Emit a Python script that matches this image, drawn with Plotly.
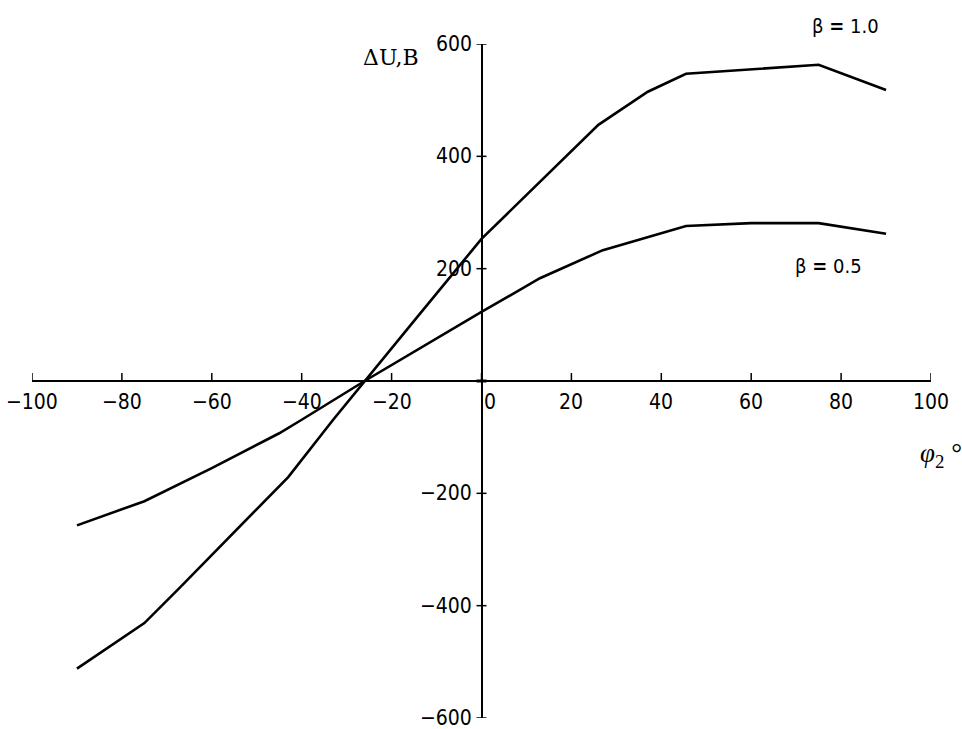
import plotly.graph_objects as go

# Data
phi_b10 = [-90, -75, -67, -52, -43, -33, -26, -15, 0, 7, 26, 37, 45.5, 75, 90]
du_b10 = [-512, -431, -367, -244, -171, -69, 0, 107, 253, 308, 456, 515, 547, 563, 518]

phi_b05 = [-90, -75, -60, -45, -40, -26, 0, 13, 27, 45.5, 60, 75, 90]
du_b05 = [-257, -214, -155, -93, -69, 0, 123, 183, 233, 276, 281, 281, 262]

x_ticks = [-100, -80, -60, -40, -20, 0, 20, 40, 60, 80, 100]
y_ticks = [-600, -400, -200, 0, 200, 400, 600]

TICK_FONT = dict(family="DejaVu Sans Condensed, DejaVu Sans", size=21, color="black")
LABEL_FONT = dict(family="DejaVu Sans Condensed, DejaVu Sans", size=20, color="black")

fig = go.Figure()
fig.add_trace(go.Scatter(x=phi_b10, y=du_b10, mode="lines",
                         line=dict(color="black", width=2.6), showlegend=False))
fig.add_trace(go.Scatter(x=phi_b05, y=du_b05, mode="lines",
                         line=dict(color="black", width=2.6), showlegend=False))

shapes = []
annotations = []
# x ticks (upward from axis)
for t in x_ticks:
    shapes.append(dict(type="line", xref="x", yref="y", ysizemode="pixel", yanchor=0,
                       x0=t, x1=t, y0=0, y1=8, line=dict(color="black", width=1.5)))
    if t == 0:
        annotations.append(dict(x=t, y=0, xref="x", yref="y", text=str(t), showarrow=False,
                                xanchor="left", yanchor="top", xshift=0, yshift=-7,
                                font=TICK_FONT))
    else:
        annotations.append(dict(x=t, y=0, xref="x", yref="y", text=str(t).replace("-", "\u2212"),
                                showarrow=False, xanchor="center", yanchor="top", yshift=-7,
                                font=TICK_FONT))
# y ticks (crossing the axis)
for t in y_ticks:
    shapes.append(dict(type="line", xref="x", yref="y", xsizemode="pixel", xanchor=0,
                       x0=-5, x1=5, y0=t, y1=t,
                       line=dict(color="black", width=3 if t == 0 else 1.5)))
    if t != 0:
        annotations.append(dict(x=0, y=t, xref="x", yref="y", text=str(t).replace("-", "\u2212"),
                                showarrow=False, xanchor="right", yanchor="middle", xshift=-8,
                                font=TICK_FONT))

# Axis titles and curve labels (positions in pixels, converted below)
annotations += [
    dict(x=391, y=57, xref="paper", yref="paper", text="\u0394U,B", showarrow=False,
         font=dict(family="DejaVu Serif, Liberation Serif", size=22, color="black")),
    dict(x=941, y=455, xref="paper", yref="paper",
         text="<i>\u03c6</i><sub>2</sub> \u00b0", showarrow=False,
         font=dict(family="Liberation Serif, Times New Roman", size=27, color="black")),
    dict(x=845, y=26, xref="paper", yref="paper", text="\u03b2 <b>=</b> 1.0", showarrow=False,
         font=LABEL_FONT),
    dict(x=828, y=266, xref="paper", yref="paper", text="\u03b2 <b>=</b> 0.5", showarrow=False,
         font=LABEL_FONT),
]

W, H = 962, 729
L, R, T, B = 32, 31, 44, 11
for a in annotations:
    if a.get("xref") == "paper":
        a["x"] = (a["x"] - L) / (W - L - R)
        a["y"] = 1 - (a["y"] - T) / (H - T - B)
        a["xanchor"] = "center"
        a["yanchor"] = "middle"

fig.update_layout(
    width=W, height=H,
    margin=dict(l=L, r=R, t=T, b=B),
    paper_bgcolor="white", plot_bgcolor="white",
    showlegend=False,
    shapes=shapes,
    annotations=annotations,
    xaxis=dict(range=[-100, 100], showgrid=False, showticklabels=False, ticks="",
               zeroline=True, zerolinecolor="black", zerolinewidth=1.5, showline=False),
    yaxis=dict(range=[-600, 600], showgrid=False, showticklabels=False, ticks="",
               zeroline=True, zerolinecolor="black", zerolinewidth=1.5, showline=False),
)

fig.write_html("out.html")
